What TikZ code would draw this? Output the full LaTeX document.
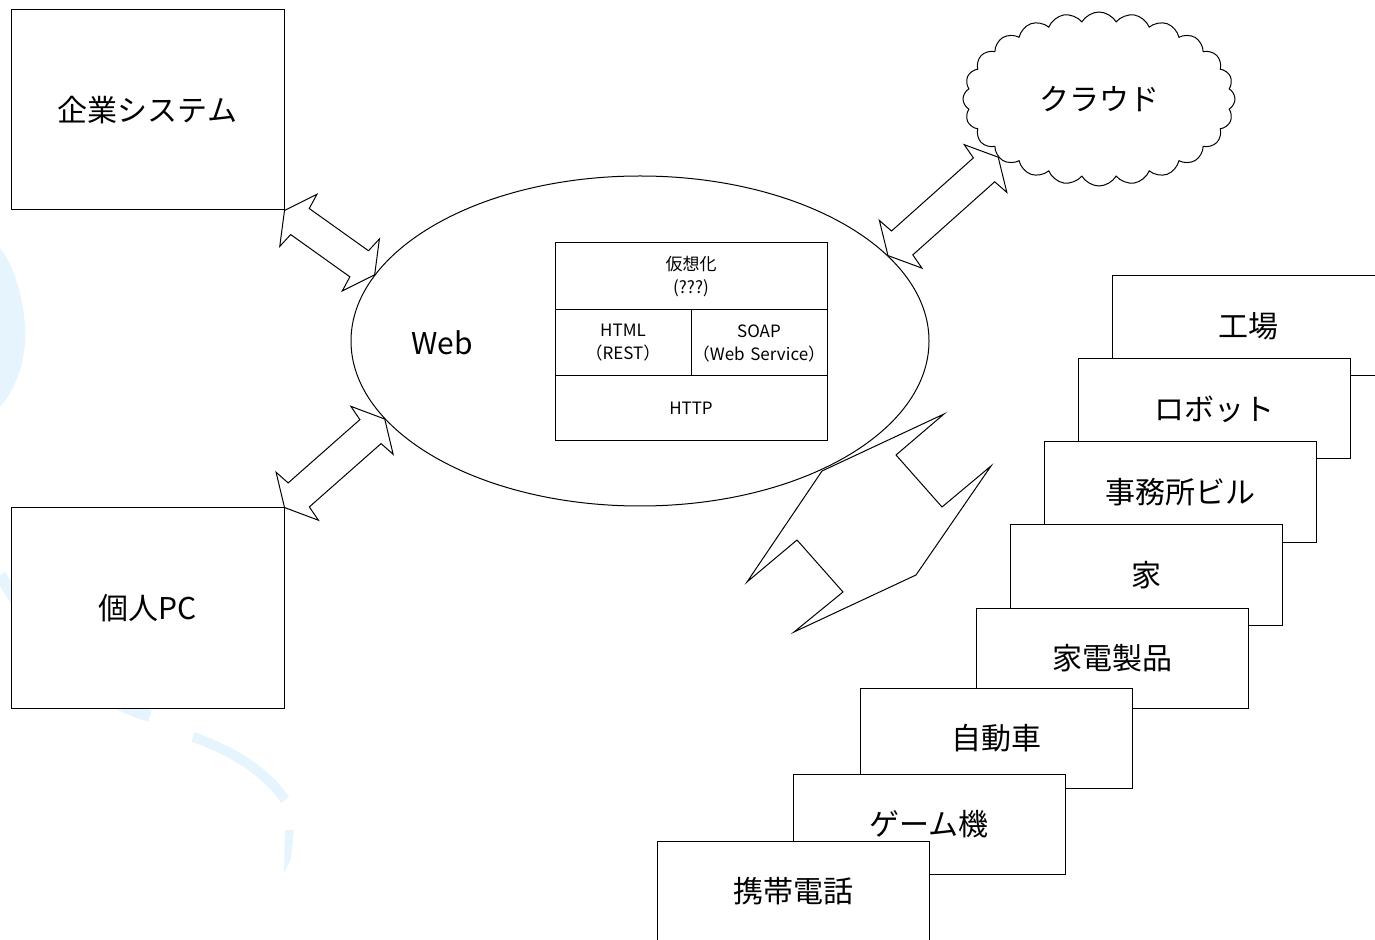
\documentclass[tikz,border=0pt]{standalone}
\usepackage{fontspec}
\newfontfamily\jp{Noto Sans CJK JP}
\usetikzlibrary{calc,shapes.geometric,shapes.symbols}
\definecolor{wmblue}{RGB}{230,245,253}
% block arrow with a head at both ends, from #1 to #2
\newcommand\linkarrow[2]{%
  \coordinate (la) at (#1); \coordinate (lb) at (#2);
  \coordinate (ha) at ($(la)!8.5pt!(lb)$);
  \coordinate (na) at ($(la)!9.5pt!(lb)$);
  \coordinate (hb) at ($(lb)!8.5pt!(la)$);
  \coordinate (nb) at ($(lb)!9.5pt!(la)$);
  \draw (la) -- ($(ha)!16pt!90:(lb)$) -- ($(na)!8pt!90:(lb)$)
    -- ($(nb)!8pt!-90:(la)$) -- ($(hb)!16pt!-90:(la)$) -- (lb)
    -- ($(hb)!16pt!90:(la)$) -- ($(nb)!8pt!90:(la)$)
    -- ($(na)!8pt!-90:(lb)$) -- ($(ha)!16pt!-90:(lb)$) -- cycle;}

\begin{document}
\begin{tikzpicture}[x=.5pt,y=-.5pt,line width=.5pt,
  bigbox/.style={draw,fill=white,minimum width=136.5pt,minimum height=100pt,inner sep=0pt,font=\jp\fontsize{15}{18}\selectfont},
  devbox/.style={draw,fill=white,minimum width=136pt,minimum height=50pt,inner sep=0pt,font=\jp\fontsize{15}{18}\selectfont},
  layer/.style={draw,inner sep=0pt,align=center,font=\jp\fontsize{8.5}{11.5}\selectfont}]
\useasboundingbox (0,0) rectangle (1375,940);
\clip (0,0) rectangle (1375,940);
% faint background
\fill[wmblue] (0,248) .. controls (18,270) and (27,315) .. (25,343) .. controls (23,370) and (12,395) .. (0,406) -- cycle;
\draw[wmblue,line width=6pt] (0,575) .. controls (40,640) and (90,700) .. (150,716);
\draw[wmblue,line width=5pt] (193,737) .. controls (230,750) and (265,770) .. (285,800);
\fill[wmblue] (285,830) -- (294,830) -- (291,858) -- (284,873) -- cycle;

\node[bigbox] (kigyo) at (147.5,110) {企業システム};
\node[bigbox] (kojin) at (147.5,608) {個人PC};

\node[draw,ellipse,minimum width=289pt,minimum height=165pt,inner sep=0pt] (web) at (640,341) {};
\node[font=\jp\fontsize{15}{18}\selectfont] (weblabel) at (442,343) {Web};

\node[layer,text width=136pt,minimum height=33.5pt] (virt) at (691,276.5) {仮想化\\(???)};
\node[layer,text width=68pt,minimum height=33pt] (html) at (623,343) {HTML\\（REST）};
\node[layer,text width=68pt,minimum height=33pt] (soap) at (759,343) {SOAP\\（Web Service）};
\node[layer,text width=136pt,minimum height=32.5pt] (http) at (691,408.5) {HTTP};

\node[cloud,draw,cloud puffs=24,cloud puff arc=120,aspect=1.56,minimum width=136pt,minimum height=87pt,inner sep=0pt,font=\jp\fontsize{15}{18}\selectfont] (cloud) at (1099,99) {クラウド};

\foreach \n/\x/\y/\t in {kojo/1248/326/工場,robot/1214/409/ロボット,office/1180/492/事務所ビル,
  house/1146/575/家,appliance/1112.5/658.5/家電製品,car/996/738/自動車,game/929/824/ゲーム機,phone/793/891/携帯電話}
  \node[devbox] (\n) at (\x,\y) {\t};

\linkarrow{kigyo.south east}{web.166}
\linkarrow{kojin.north east}{web.197}
\linkarrow{web.19}{cloud.210}
\draw (822,471) -- (944,414) -- (896,455) -- (942,507) -- (991,466) -- (916,575)
  -- (794,632) -- (843,592) -- (797,540) -- (747,582) -- cycle;

\end{tikzpicture}
\end{document}
